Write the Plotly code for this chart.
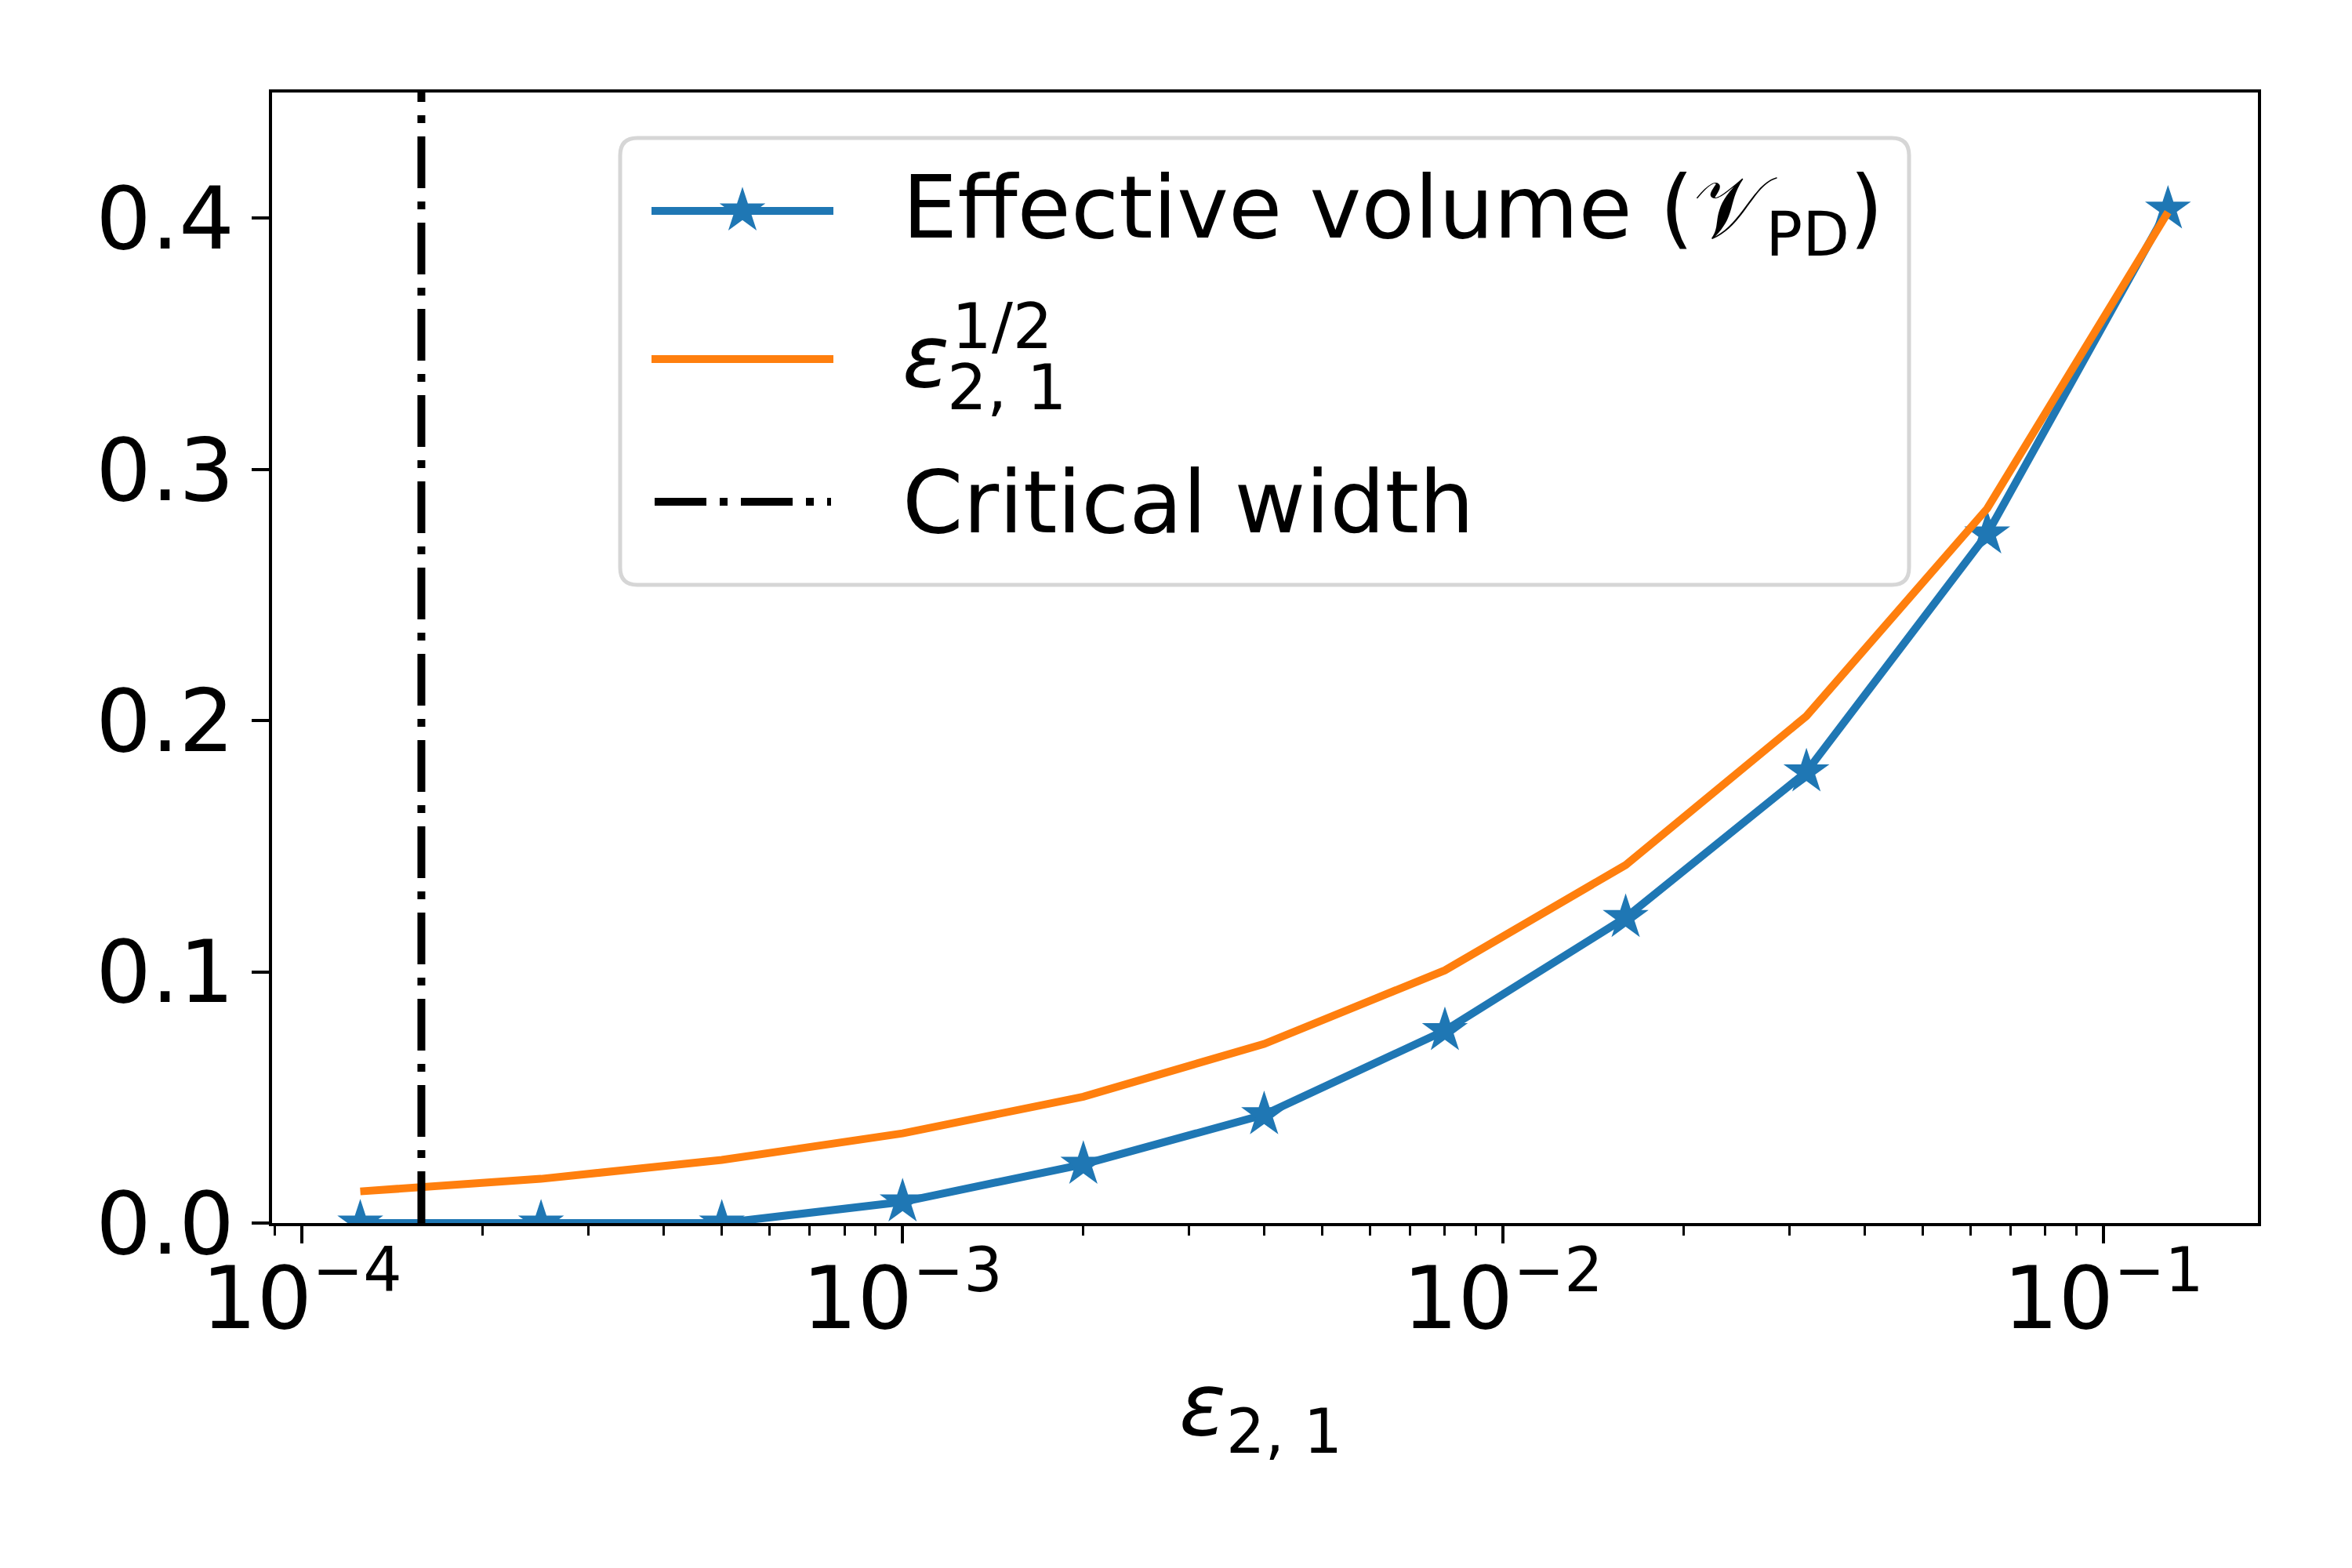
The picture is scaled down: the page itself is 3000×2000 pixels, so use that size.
import math
import plotly.graph_objects as go

# data
eps = [1.25e-4, 2.5e-4, 5e-4, 1e-3, 2e-3, 4e-3, 8e-3, 1.6e-2, 3.2e-2, 6.4e-2, 0.128]
eff_volume = [0.0, 0.0, 0.0, 0.0084, 0.0234, 0.0431, 0.0766, 0.1216, 0.1796, 0.2743, 0.4036]
sqrt_eps = [0.0126, 0.0176, 0.0251, 0.0357, 0.0503, 0.0713, 0.1006, 0.1425, 0.2018, 0.2844, 0.4024]
critical_width = 1.58e-4

x_ticks = [1e-4, 1e-3, 1e-2, 1e-1]
x_ticktext = ["10<sup>\u22124</sup>", "10<sup>\u22123</sup>", "10<sup>\u22122</sup>", "10<sup>\u22121</sup>"]
y_ticks = [0.0, 0.1, 0.2, 0.3, 0.4]
y_ticktext = ["0.0", "0.1", "0.2", "0.3", "0.4"]

BLUE = "#1f77b4"
ORANGE = "#ff7f0e"
FONT = "DejaVu Sans"
FS = 111
LW = 10
STAR = 44
DASHDOT = "66px,17px,10px,17px"

# plot area in screen pixels (page body has an 8px margin)
OFF = 8
PL, PR, PT, PB = 347, 2880, 118, 1560
W, H = 3000, 2000
Y_TOP = 0.45


def px_x(p):
    return (p - PL) / (PR - PL)


def px_y(p):
    return (PB - p) / (PB - PT)


fig = go.Figure()

fig.add_trace(go.Scatter(
    x=eps, y=eff_volume, mode="lines+markers",
    line=dict(color=BLUE, width=LW),
    marker=dict(symbol="star", size=STAR, color=BLUE, line=dict(width=0)),
    showlegend=False,
))
fig.add_trace(go.Scatter(
    x=eps, y=sqrt_eps, mode="lines",
    line=dict(color=ORANGE, width=LW),
    showlegend=False,
))
fig.add_trace(go.Scatter(
    x=[critical_width, critical_width], y=[0, Y_TOP], mode="lines",
    line=dict(color="black", width=LW, dash=DASHDOT),
    showlegend=False,
))

# hand made legend (rounded box like matplotlib)
bx0, bx1, by0, by1 = 791, 2435, 176, 746
r = 22
rx = r / (PR - PL)
ry = r / (PB - PT)
x0, x1 = px_x(bx0), px_x(bx1)
y0, y1 = px_y(by1), px_y(by0)
path = (
    f"M {x0 + rx},{y0} L {x1 - rx},{y0} Q {x1},{y0} {x1},{y0 + ry} "
    f"L {x1},{y1 - ry} Q {x1},{y1} {x1 - rx},{y1} "
    f"L {x0 + rx},{y1} Q {x0},{y1} {x0},{y1 - ry} "
    f"L {x0},{y0 + ry} Q {x0},{y0} {x0 + rx},{y0} Z"
)
fig.add_shape(type="path", path=path, xref="paper", yref="paper",
              fillcolor="white", line=dict(color="#d6d6d6", width=5), layer="below")

rows_y = [269, 458, 640]
fig.add_shape(type="line", xref="paper", yref="paper",
              x0=px_x(831), x1=px_x(1063), y0=px_y(rows_y[0]), y1=px_y(rows_y[0]),
              line=dict(color=BLUE, width=LW), layer="below")
fig.add_shape(type="line", xref="paper", yref="paper",
              x0=px_x(831), x1=px_x(1063), y0=px_y(rows_y[1]), y1=px_y(rows_y[1]),
              line=dict(color=ORANGE, width=LW), layer="below")
fig.add_shape(type="line", xref="paper", yref="paper",
              x0=px_x(835), x1=px_x(1060), y0=px_y(rows_y[2]), y1=px_y(rows_y[2]),
              line=dict(color="black", width=LW, dash=DASHDOT), layer="below")

# star of the legend sample, on an overlay axis that spans the plot area
fig.add_trace(go.Scatter(
    x=[px_x(947)], y=[px_y(rows_y[0])], mode="markers",
    marker=dict(symbol="star", size=STAR, color=BLUE, line=dict(width=0)),
    xaxis="x2", yaxis="y2", showlegend=False, cliponaxis=False,
))

tx = 1149
annots = [
    dict(text="Effective volume (\U0001D4B1<sub>PD</sub>)", x=px_x(tx), y=px_y(272), size=FS),
    dict(text="<i>\u03b5</i>", x=px_x(tx), y=px_y(454), size=FS),
    dict(text="1/2", x=px_x(1212), y=px_y(416), size=80),
    dict(text="2, 1", x=px_x(1206), y=px_y(494), size=80),
    dict(text="Critical width", x=px_x(tx), y=px_y(641), size=FS),
]
for a in annots:
    fig.add_annotation(text=a["text"], x=a["x"], y=a["y"], xref="paper", yref="paper",
                       xanchor="left", yanchor="middle", showarrow=False,
                       font=dict(family=FONT, size=a["size"], color="black"))

# x tick labels and x title, placed as text so they sit where matplotlib put them
for v, t in zip(x_ticks, x_ticktext):
    fig.add_annotation(text=t, x=math.log10(v), xref="x", y=px_y(1647), yref="paper",
                       xanchor="center", yanchor="middle", showarrow=False,
                       font=dict(family=FONT, size=FS, color="black"))
fig.add_annotation(text="<i>\u03b5</i><sub>2, 1</sub>", x=px_x(1608), y=px_y(1799),
                   xref="paper", yref="paper", xanchor="center", yanchor="middle",
                   showarrow=False, font=dict(family=FONT, size=FS, color="black"))

fig.update_layout(
    width=W, height=H,
    margin=dict(l=PL - OFF, r=W - (PR - OFF), t=PT - OFF, b=H - (PB - OFF)),
    paper_bgcolor="white", plot_bgcolor="white",
    font=dict(family=FONT, size=FS, color="black"),
    showlegend=False,
    xaxis=dict(
        type="log", range=[-4.05, -0.743],
        showline=True, linecolor="black", linewidth=4, mirror=True,
        showgrid=False, zeroline=False,
        ticks="outside", ticklen=22, tickwidth=4, tickcolor="black",
        tickvals=x_ticks, showticklabels=False,
        minor=dict(ticks="outside", ticklen=12, tickwidth=3, tickcolor="black",
                   tickvals=[m * 10 ** k for k in range(-5, 0) for m in range(2, 10)],
                   showgrid=False),
    ),
    yaxis=dict(
        range=[0, Y_TOP],
        showline=True, linecolor="black", linewidth=4, mirror=True,
        showgrid=False, zeroline=False,
        ticks="outside", ticklen=22, tickwidth=4, tickcolor="black",
        tickvals=y_ticks, ticktext=y_ticktext,
        tickfont=dict(family=FONT, size=FS),
    ),
    xaxis2=dict(overlaying="x", range=[0, 1], visible=False, fixedrange=True),
    yaxis2=dict(overlaying="y", range=[0, 1], visible=False, fixedrange=True),
)

fig.write_html("out.html")
